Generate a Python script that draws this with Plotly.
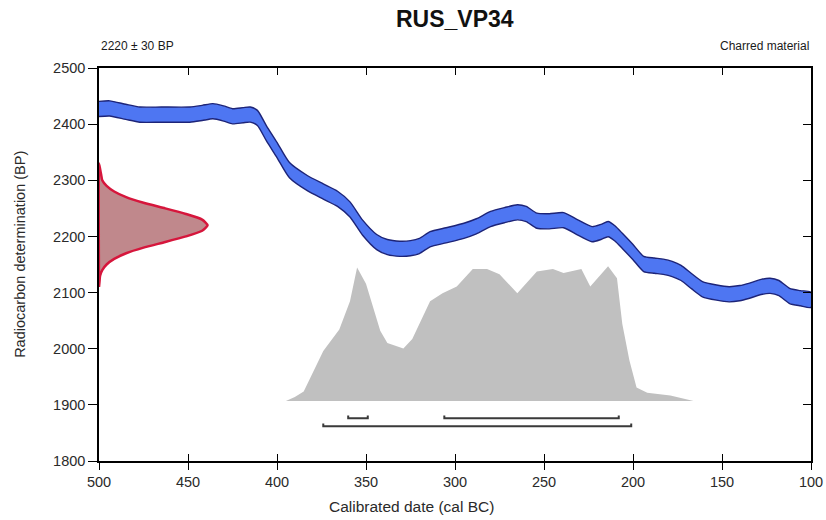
import plotly.graph_objects as go

# ---------------- data ----------------
title_text = "RUS_VP34"
sample_label = "2220 \u00b1 30 BP"
material_label = "Charred material"

# calibration curve (cal BC year, BP centre)
curve_years = [500, 494, 485, 477, 465, 449, 442, 436, 430, 425, 419, 415, 411, 406, 400,
               393, 383, 374, 366, 359, 352, 344, 338, 331, 325, 320, 314, 305, 295, 288,
               280, 272, 265, 260, 254, 247, 239, 231, 223, 218, 214, 210, 206, 200, 194,
               188, 183, 178, 173, 167, 161, 153, 146, 140, 135, 128, 123, 118, 112, 106, 100]
curve_bp = [2427, 2428, 2422, 2417, 2417, 2417, 2420, 2423, 2419, 2414, 2416, 2417, 2411, 2384, 2354,
            2318, 2295, 2280, 2267, 2248, 2216, 2190, 2181, 2178, 2179, 2183, 2195, 2202, 2210, 2218,
            2231, 2238, 2243, 2240, 2228, 2227, 2229, 2216, 2204, 2208, 2213, 2205, 2192, 2172, 2151,
            2148, 2146, 2142, 2135, 2120, 2106, 2100, 2097, 2099, 2103, 2110, 2112, 2108, 2094, 2090, 2087]
curve_halfwidth = 13.5

# radiocarbon determination (BP level, relative density)
c14_bp = [2330, 2320, 2310, 2300, 2290, 2280, 2270, 2260, 2250, 2240, 2230, 2220,
          2210, 2200, 2190, 2180, 2170, 2160, 2150, 2140, 2130, 2120, 2110]
c14_density = [0.0, 0.01, 0.02, 0.03, 0.07, 0.14, 0.25, 0.41, 0.61, 0.80, 0.95, 1.0,
               0.95, 0.80, 0.61, 0.41, 0.25, 0.14, 0.07, 0.03, 0.01, 0.005, 0.0]

# calibrated probability (cal BC year, relative probability)
cal_years = [395, 390, 385, 374, 365, 359, 355, 350, 342, 338, 329, 324, 314, 307, 299,
             290, 282, 275, 265, 254, 245, 239, 229, 224, 214, 209, 206, 202, 198, 192, 179, 166]
cal_prob = [0.0, 0.03, 0.07, 0.37, 0.53, 0.74, 0.99, 0.87, 0.52, 0.43, 0.39, 0.46, 0.74, 0.80, 0.85,
            0.98, 0.98, 0.94, 0.80, 0.96, 0.98, 0.95, 0.98, 0.85, 1.0, 0.91, 0.57, 0.30, 0.10, 0.06, 0.04, 0.0]

# highest probability ranges (cal BC)
range_68 = [(360, 349), (306, 208)]
range_95 = [(374, 201)]

x_ticks = [500, 450, 400, 350, 300, 250, 200, 150, 100]
y_ticks = [1800, 1900, 2000, 2100, 2200, 2300, 2400, 2500]

# ---------------- styling / geometry ----------------
FONT = "Liberation Sans, Arial, sans-serif"
cal_base = 1907
cal_scale = 240
c14_base_x = 500
c14_scale = 61
row68 = 1876
row95 = 1862
cap = 5

fig = go.Figure()

# calibration band
upper = [b + curve_halfwidth for b in curve_bp]
lower = [b - curve_halfwidth for b in curve_bp]
fig.add_trace(go.Scatter(
    x=curve_years + curve_years[::-1], y=upper + lower[::-1],
    fill="toself", fillcolor="rgb(78,118,242)",
    line=dict(color="#1d2478", width=1.4, shape="spline", smoothing=0.6),
    mode="lines", hoverinfo="skip", showlegend=False))

# calibrated distribution
gx = cal_years + [cal_years[-1], cal_years[0]]
gy = [cal_base + p * cal_scale for p in cal_prob] + [cal_base, cal_base]
fig.add_trace(go.Scatter(
    x=gx, y=gy, fill="toself", fillcolor="#c0c0c0",
    line=dict(width=0, color="#c0c0c0"), mode="lines",
    hoverinfo="skip", showlegend=False))

# radiocarbon determination
rx = [c14_base_x - d * c14_scale for d in c14_density]
fig.add_trace(go.Scatter(
    x=rx + [c14_base_x, c14_base_x], y=c14_bp + [c14_bp[-1], c14_bp[0]],
    fill="toself", fillcolor="rgb(192,136,140)",
    line=dict(color="#d6163c", width=2.5, shape="spline", smoothing=0.5),
    mode="lines", hoverinfo="skip", showlegend=False))

# range brackets
for rows, level in ((range_68, row68), (range_95, row95)):
    for a, b in rows:
        fig.add_trace(go.Scatter(
            x=[a, a, b, b], y=[level + cap, level, level, level + cap],
            mode="lines", line=dict(color="#3a3a3a", width=2),
            hoverinfo="skip", showlegend=False))

# dummy trace for overlay axes
fig.add_trace(go.Scatter(x=[300], y=[2000], xaxis="x2", yaxis="y2", mode="none",
                         hoverinfo="skip", showlegend=False))

tick_font = dict(family=FONT, size=14.5, color="#2a2a2a")
small_font = dict(family=FONT, size=12, color="#1a1a1a")
fig.update_layout(
    width=826, height=520,
    margin=dict(l=99, r=15, t=68, b=59, autoexpand=False),
    paper_bgcolor="white", plot_bgcolor="white",
    xaxis=dict(range=[500, 100], tickvals=x_ticks, ticks="outside", ticklen=7,
               tickcolor="black", tickwidth=1, showline=True, linecolor="black", linewidth=1.5,
               showgrid=False, zeroline=False, tickfont=tick_font, automargin=False),
    xaxis2=dict(range=[500, 100], overlaying="x", side="bottom", anchor="y", tickvals=x_ticks,
                ticks="inside", ticklen=7, tickcolor="black", mirror="ticks", showline=True,
                linecolor="black", linewidth=1.5, showticklabels=False, showgrid=False,
                zeroline=False, automargin=False),
    yaxis=dict(range=[1800, 2500], tickvals=y_ticks, ticks="outside", ticklen=9,
               tickcolor="black", showline=True, linecolor="black", linewidth=1.5,
               showgrid=False, zeroline=False, tickfont=tick_font, automargin=False),
    yaxis2=dict(range=[1800, 2500], overlaying="y", side="right", anchor="x", tickvals=y_ticks,
                ticks="inside", ticklen=8, tickcolor="black", showline=True, linecolor="black",
                linewidth=1.5, showticklabels=False, showgrid=False, zeroline=False,
                automargin=False),
    annotations=[
        dict(text="<b>" + title_text + "</b>", xref="paper", yref="paper", x=0.5, y=1.125,
             xanchor="center", yanchor="middle", showarrow=False,
             font=dict(family=FONT, size=23, color="#111")),
        dict(text=sample_label, xref="paper", yref="paper", x=0, y=1.057,
             xanchor="left", yanchor="middle", showarrow=False, font=small_font),
        dict(text=material_label, xref="paper", yref="paper", x=1, y=1.057,
             xanchor="right", yanchor="middle", showarrow=False, font=small_font),
        dict(text="Radiocarbon determination (BP)", xref="paper", yref="paper", x=-0.111,
             y=0.527, xanchor="center", yanchor="middle", textangle=-90, showarrow=False,
             font=dict(family=FONT, size=14.5, color="#2a2a2a")),
        dict(text="Calibrated date (cal BC)", xref="paper", yref="paper", x=0.439, y=-0.116,
             xanchor="center", yanchor="middle", showarrow=False,
             font=dict(family=FONT, size=15.5, color="#2a2a2a")),
    ],
)

fig.write_html("out.html")
